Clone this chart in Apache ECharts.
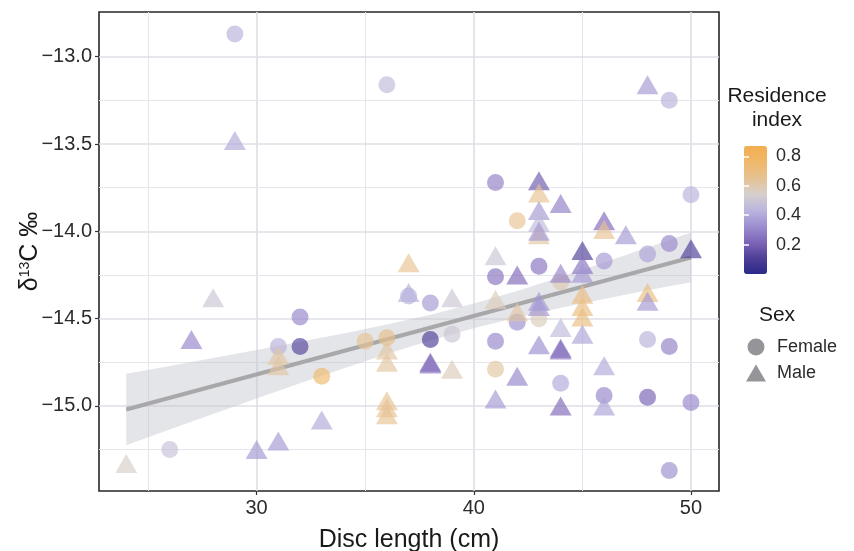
<!DOCTYPE html>
<html>
<head>
<meta charset="utf-8">
<script src="https://cdn.jsdelivr.net/npm/echarts@6/dist/echarts.min.js"></script>
<style>html,body{margin:0;padding:0;background:#fff}#c{width:854px;height:551px}</style>
</head>
<body>
<div id="c"></div>
<script>
// ---- data ----
const femaleX  = [29, 36, 49, 41, 42, 50, 49, 48, 46, 43, 41, 44, 37, 38, 42, 43, 38, 39, 41, 41, 44, 46, 48, 49, 48, 50, 49, 32, 31, 32, 33, 35, 36, 26];
const femaleY  = [-12.87, -13.16, -13.25, -13.72, -13.94, -13.79, -14.07, -14.13, -14.17, -14.20, -14.26, -14.29, -14.37, -14.41, -14.52, -14.50, -14.62, -14.59, -14.63, -14.79, -14.87, -14.94, -14.62, -14.66, -14.95, -14.98, -15.37, -14.49, -14.66, -14.66, -14.83, -14.63, -14.61, -15.25];
const femaleRI = [0.42, 0.45, 0.42, 0.28, 0.65, 0.42, 0.30, 0.38, 0.35, 0.25, 0.25, 0.60, 0.42, 0.35, 0.32, 0.58, 0.10, 0.50, 0.30, 0.62, 0.40, 0.30, 0.42, 0.28, 0.20, 0.30, 0.32, 0.30, 0.42, 0.12, 0.75, 0.65, 0.68, 0.48];

const maleX  = [29, 48, 43, 43, 44, 43, 43, 43, 43, 46, 46, 47, 50, 45, 45, 45, 45, 45, 45, 45, 41, 42, 37, 44, 48, 48, 37, 39, 41, 42, 43, 43, 44, 38, 38, 39, 43, 44, 44, 42, 41, 44, 46, 46, 28, 27, 31, 31, 36, 36, 36, 36, 36, 33, 31, 30, 24];
const maleY  = [-13.48, -13.16, -13.71, -13.78, -13.84, -13.88, -13.95, -14.02, -14.00, -13.94, -13.99, -14.02, -14.10, -14.11, -14.19, -14.24, -14.36, -14.43, -14.49, -14.59, -14.14, -14.25, -14.18, -14.24, -14.35, -14.40, -14.35, -14.38, -14.39, -14.46, -14.40, -14.43, -14.55, -14.75, -14.76, -14.79, -14.65, -14.67, -14.68, -14.83, -14.96, -15.00, -14.77, -15.00, -14.38, -14.62, -14.71, -14.77, -14.68, -14.75, -14.97, -15.01, -15.05, -15.08, -15.20, -15.25, -15.33];
const maleRI = [0.40, 0.35, 0.18, 0.65, 0.28, 0.35, 0.45, 0.62, 0.35, 0.22, 0.65, 0.35, 0.10, 0.10, 0.25, 0.35, 0.70, 0.70, 0.70, 0.38, 0.50, 0.22, 0.65, 0.30, 0.70, 0.35, 0.42, 0.50, 0.58, 0.62, 0.35, 0.35, 0.45, 0.20, 0.25, 0.58, 0.32, 0.22, 0.25, 0.30, 0.35, 0.22, 0.40, 0.38, 0.50, 0.30, 0.62, 0.62, 0.62, 0.62, 0.65, 0.65, 0.65, 0.40, 0.35, 0.35, 0.55];

const fitX = [24, 50];
const fitY = [-15.02, -14.15];
const bandX     = [24, 26, 28, 30, 32, 34, 36, 38, 40, 42, 44, 46, 48, 50];
const bandUpper = [-14.815, -14.771, -14.726, -14.680, -14.633, -14.585, -14.533, -14.477, -14.413, -14.341, -14.262, -14.179, -14.093, -14.006];
const bandLower = [-15.225, -15.135, -15.046, -14.958, -14.870, -14.785, -14.703, -14.625, -14.555, -14.493, -14.438, -14.387, -14.338, -14.292];

const xTicks = [30, 40, 50];
const xMinor = [25, 35, 45];
const yTicks = [-13.0, -13.5, -14.0, -14.5, -15.0];
const yMinor = [-13.25, -13.75, -14.25, -14.75, -15.25];
const riTicks = [0.2, 0.4, 0.6, 0.8];
const riColors = ['#2a2a88', '#4f3f98', '#7e66b8', '#9d8fd0', '#bcb6de', '#d6d0cc', '#e6c292', '#efb86a', '#f3ae4e'];

// ---- chart ----
const FONT = 'Liberation Sans, Arial, Helvetica, sans-serif';
const fmtMinus = v => (v < 0 ? '\u2212' : '') + Math.abs(v).toFixed(1);
const femaleData = femaleX.map((x, i) => [x, femaleY[i], femaleRI[i]]);
const maleData = maleX.map((x, i) => [x, maleY[i], maleRI[i]]);

const gridLines = [];
xTicks.forEach(v => gridLines.push({xAxis: v, lineStyle: {color: '#dfdee6', width: 1.6, type: 'solid'}}));
xMinor.forEach(v => gridLines.push({xAxis: v, lineStyle: {color: '#e6e5eb', width: 1, type: 'solid'}}));
yTicks.forEach(v => gridLines.push({yAxis: v, lineStyle: {color: '#dfdee6', width: 1.6, type: 'solid'}}));
yMinor.forEach(v => gridLines.push({yAxis: v, lineStyle: {color: '#e6e5eb', width: 1, type: 'solid'}}));

const chart = echarts.init(document.getElementById('c'), null, {renderer: 'canvas'});
chart.setOption({
  animation: false,
  backgroundColor: '#fff',
  textStyle: {fontFamily: FONT},
  grid: [
    {left: 99, right: 135, top: 12, bottom: 60, show: true, backgroundColor: '#fff', borderColor: '#262626', borderWidth: 1.6, containLabel: false, outerBoundsMode: 'none'},
    {left: 744, top: 146, width: 23, height: 128, show: false, containLabel: false, outerBoundsMode: 'none'}
  ],
  xAxis: [
    {
      type: 'value', gridIndex: 0, min: 22.745, max: 51.29,
      name: 'Disc length (cm)', nameLocation: 'middle', nameGap: 37, nameMoveOverlap: false,
      nameTextStyle: {fontSize: 25, color: '#1a1a1a', fontFamily: FONT},
      axisLine: {show: false},
      axisTick: {show: true, length: 4, customValues: xTicks, lineStyle: {color: '#333', width: 1.2}},
      axisLabel: {customValues: xTicks, fontSize: 20, color: '#2b2b2b', margin: 7, fontFamily: FONT},
      splitLine: {show: false}
    },
    {type: 'value', gridIndex: 1, min: 0, max: 1, show: false}
  ],
  yAxis: [
    {
      type: 'value', gridIndex: 0, min: -15.487, max: -12.744,
      name: '{a|\u03b4}{s|13}{a|C \u2030}', nameLocation: 'middle', nameGap: 56, nameRotate: 90, nameMoveOverlap: false,
      nameTextStyle: {
        fontFamily: FONT, color: '#1a1a1a',
        rich: {a: {fontSize: 25, fontFamily: FONT, color: '#1a1a1a'}, s: {fontSize: 14, fontFamily: FONT, color: '#1a1a1a', verticalAlign: 'top', padding: [0, 0, 10, 0]}}
      },
      axisLine: {show: false},
      axisTick: {show: true, length: 4, customValues: yTicks, lineStyle: {color: '#333', width: 1.2}},
      axisLabel: {customValues: yTicks, formatter: fmtMinus, fontSize: 20, color: '#2b2b2b', margin: 7, fontFamily: FONT},
      splitLine: {show: false}
    },
    {
      type: 'value', gridIndex: 1, position: 'right', min: 0, max: 0.87, z: 10,
      axisLine: {show: false},
      axisTick: {show: true, inside: true, length: 5, customValues: riTicks, lineStyle: {color: '#fff', width: 1.5}},
      axisLabel: {customValues: riTicks, formatter: v => v.toFixed(1), fontSize: 18, color: '#2b2b2b', margin: 9, fontFamily: FONT},
      splitLine: {show: false}
    },
    {
      type: 'value', gridIndex: 1, position: 'left', min: 0, max: 0.87, z: 10,
      axisLine: {show: false},
      axisTick: {show: true, inside: true, length: 5, customValues: riTicks, lineStyle: {color: '#fff', width: 1.5}},
      axisLabel: {show: false},
      splitLine: {show: false}
    }
  ],
  visualMap: {
    type: 'continuous', min: 0, max: 0.87, dimension: 2, seriesIndex: [2, 3],
    calculable: false, left: 744, top: 146, itemWidth: 23, itemHeight: 128, padding: 0,
    text: null, inRange: {color: riColors}, hoverLink: false, z: 4
  },
  legend: {
    orient: 'vertical', left: 741, top: 333, itemWidth: 20, itemHeight: 17, itemGap: 8,
    textStyle: {fontSize: 18, color: '#2b2b2b', fontFamily: FONT, padding: [0, 0, 0, 6]},
    selectedMode: false,
    data: [
      {name: 'Female', icon: 'circle', itemStyle: {color: '#949499', opacity: 1}},
      {name: 'Male', icon: 'triangle', itemStyle: {color: '#949499', opacity: 1}}
    ]
  },
  graphic: [
    {type: 'text', x: 777, y: 96, style: {text: 'Residence', align: 'center', verticalAlign: 'middle', textAlign: 'center', textVerticalAlign: 'middle', fontSize: 21, fontFamily: FONT, fill: '#1a1a1a'}},
    {type: 'text', x: 777, y: 120, style: {text: 'index', align: 'center', verticalAlign: 'middle', textAlign: 'center', textVerticalAlign: 'middle', fontSize: 21, fontFamily: FONT, fill: '#1a1a1a'}},
    {type: 'text', x: 777, y: 315, style: {text: 'Sex', align: 'center', verticalAlign: 'middle', textAlign: 'center', textVerticalAlign: 'middle', fontSize: 21, fontFamily: FONT, fill: '#1a1a1a'}}
  ],
  series: [
    {
      type: 'custom', name: 'band', xAxisIndex: 0, yAxisIndex: 0, z: 2, silent: true,
      data: bandX.map((x, i) => [x, bandLower[i], bandUpper[i]]),
      encode: {x: 0, y: [1, 2]},
      renderItem: function (params, api) {
        if (params.dataIndex !== 0) return null;
        const pts = [];
        for (let i = 0; i < bandX.length; i++) pts.push(api.coord([bandX[i], bandUpper[i]]));
        for (let i = bandX.length - 1; i >= 0; i--) pts.push(api.coord([bandX[i], bandLower[i]]));
        return {type: 'polygon', shape: {points: pts}, style: {fill: 'rgba(196,198,207,0.45)', stroke: null}};
      },
      markLine: {silent: true, symbol: 'none', z: 1, label: {show: false}, animation: false, data: gridLines}
    },
    {
      type: 'line', name: 'fit', xAxisIndex: 0, yAxisIndex: 0, z: 3, silent: true,
      data: fitX.map((x, i) => [x, fitY[i]]), showSymbol: false, symbol: 'none',
      lineStyle: {color: '#a8a8ab', width: 4}
    },
    {
      type: 'scatter', name: 'Female', xAxisIndex: 0, yAxisIndex: 0, z: 4,
      symbol: 'circle', symbolSize: 17, data: femaleData,
      itemStyle: {opacity: 0.66}
    },
    {
      type: 'scatter', name: 'Male', xAxisIndex: 0, yAxisIndex: 0, z: 4,
      symbol: 'triangle', symbolSize: [22, 19], data: maleData,
      itemStyle: {opacity: 0.66}
    }
  ]
});
</script>
</body>
</html>
